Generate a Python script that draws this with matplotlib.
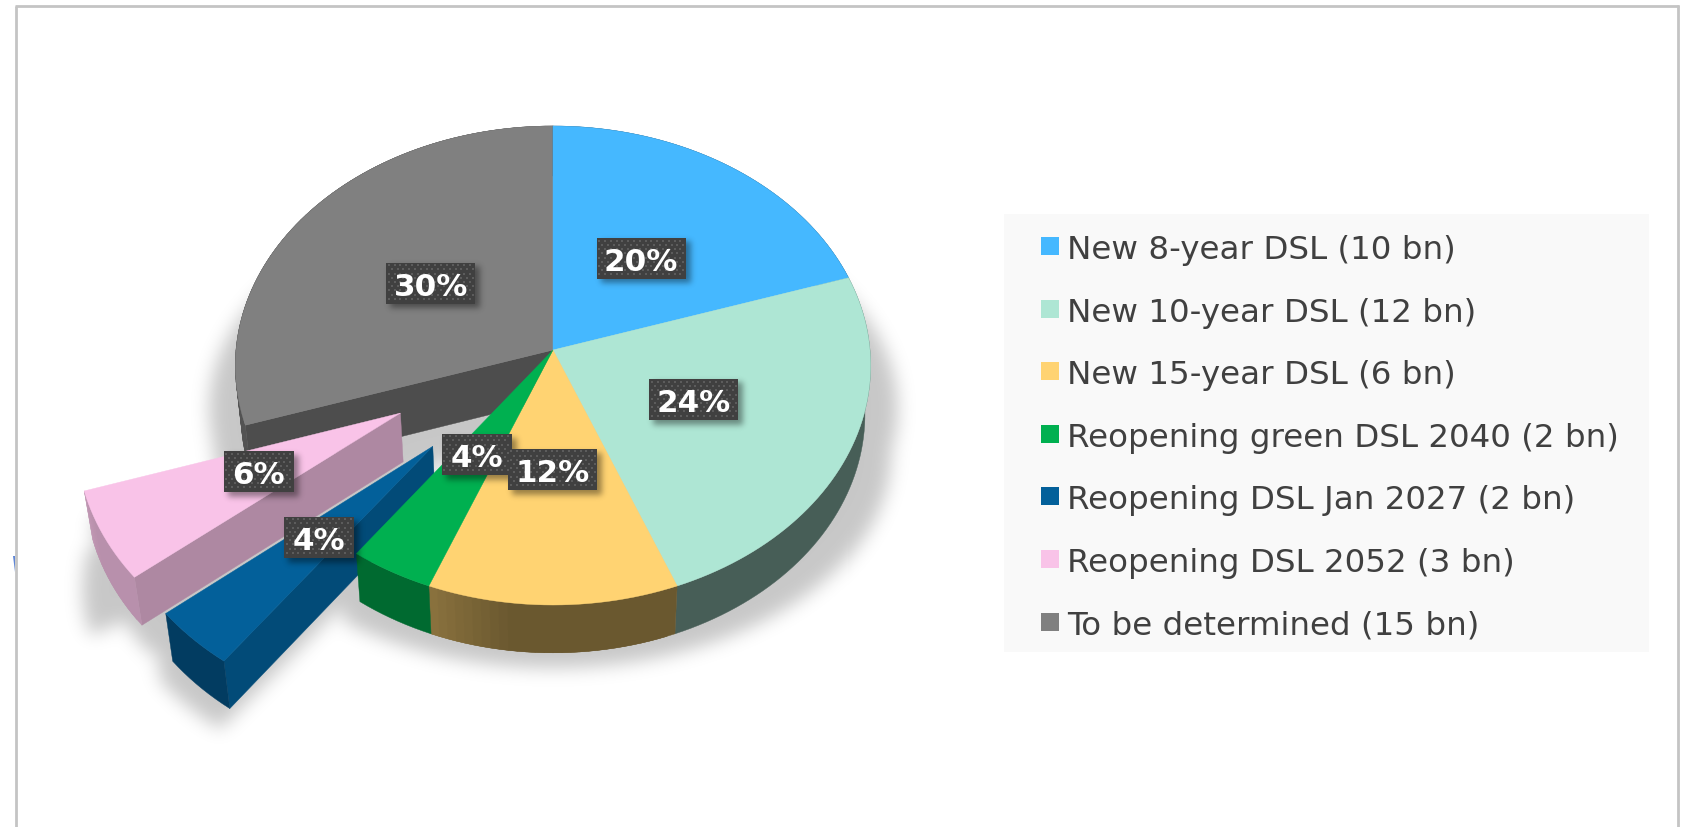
import numpy as np
import matplotlib
matplotlib.use("Agg")
import matplotlib.pyplot as plt
from matplotlib.backends.backend_agg import FigureCanvasAgg
from matplotlib.figure import Figure
from matplotlib.patches import Polygon, Rectangle

# data
names = ["New 8-year DSL (10 bn)", "New 10-year DSL (12 bn)", "New 15-year DSL (6 bn)",
         "Reopening green DSL 2040 (2 bn)", "Reopening DSL Jan 2027 (2 bn)",
         "Reopening DSL 2052 (3 bn)", "To be determined (15 bn)"]
shares = [20, 24, 12, 4, 4, 6, 30]
explode = [0, 0, 0, 0, 0.54, 0.54, 0]
colors = ["#45B8FF", "#AEE6D4", "#FFD372", "#00B050", "#03609A", "#F9C3E8", "#808080"]

# brightness of the sides: arc start, arc end, cut edge
arc_shade = [(0.4, 0.4), (0.41, 0.41), (0.415, 0.55), (0.6, 0.6), (0.63, 0.63), (0.74, 0.78), (0.65, 0.8)]
cut_shade = [0.6, 0.6, 0.6, 0.6, 0.78, 0.7, 0.6]

W, H = 1683, 828
CX, CY, RX, RY = 553, 351, 317, 238.5
P = 0.0647       # perspective
B, D = 0.982, 49  # bottom face scale and thickness
LABEL_R = 0.485


def project(x, y, bottom=False):
    x, y = np.asarray(x, float), np.asarray(y, float)
    w = 1 + P * y
    sx = CX + RX * x / w
    sy = CY - RY * y / w
    if bottom:
        sx = CX + (sx - CX) * B
        sy = CY + (sy - CY) * B + D / w
    return np.column_stack([sx, sy])


def shade(col, f):
    return tuple(c * f for c in matplotlib.colors.to_rgb(col))


edges = np.radians(np.cumsum([0] + shares) * 3.6)
faces = {}     # slice index -> list of (points, colour)
for i in range(len(shares)):
    a0, a1 = edges[i], edges[i + 1]
    mid = (a0 + a1) / 2
    ox, oy = explode[i] * np.sin(mid), explode[i] * np.cos(mid)
    col = colors[i]
    aa = np.linspace(a0, a1, max(int(np.degrees(a1 - a0) / 1.5), 2) + 1)
    ax_, ay_ = ox + np.sin(aa), oy + np.cos(aa)
    top_arc = project(ax_, ay_)
    bot_arc = project(ax_, ay_, True)
    lst = []
    # cut edge at the start angle of the slice
    if i in (4, 5, 6):
        pts = np.vstack([project([ox, ax_[0]], [oy, ay_[0]]), project([ax_[0], ox], [ay_[0], oy], True)])
        lst.append((pts, shade(col, cut_shade[i])))
    # outer side, overlapping strips where there is a gradient
    s0, s1 = arc_shade[i]
    if s0 == s1:
        lst.append((np.vstack([top_arc, bot_arc[::-1]]), shade(col, s0)))
    else:
        n = len(aa) - 1
        for k in range(n):
            t = k / n
            f = s0 + (s1 - s0) * max(0, (t - 0.65) / 0.35)
            pts = np.vstack([top_arc[k:k + 3], bot_arc[k:k + 3][::-1]])
            lst.append((pts, shade(col, f)))
    # top face
    lst.append((np.vstack([project([ox], [oy]), top_arc]), col))
    faces[i] = lst

draw_order = [6, 5, 4, 0, 1, 2, 3]


def blur(img, sigma):
    fy = np.fft.fftfreq(img.shape[0])[:, None]
    fx = np.fft.rfftfreq(img.shape[1])[None, :]
    g = np.exp(-2 * (np.pi * sigma) ** 2 * (fx ** 2 + fy ** 2))
    return np.fft.irfft2(np.fft.rfft2(img) * g, s=img.shape)


def raster(polys):
    f = Figure(figsize=(W / 100, H / 100), dpi=100)
    cv = FigureCanvasAgg(f)
    a = f.add_axes([0, 0, 1, 1])
    a.set_xlim(0, W)
    a.set_ylim(H, 0)
    a.axis("off")
    for p in polys:
        a.add_patch(Polygon(p, closed=True, fc="k", ec="k", lw=0.5))
    cv.draw()
    return 1 - np.asarray(cv.buffer_rgba())[:, :, 0] / 255.0


def black_layer(mask, alpha):
    rgba = np.zeros(mask.shape + (4,))
    rgba[:, :, 3] = np.clip(mask, 0, 1) * alpha
    return rgba


# pie shadow: every group has its own scale and shift
shadow_polys = []
for i in range(len(shares)):
    if i == 5:
        sc, sy_, dx, dy = 1.0, 1.0, 8, 28
    elif i == 4:
        sc, sy_, dx, dy = 1.03, 1.0, 0, 20
    else:
        sc, sy_, dx, dy = 1.08, 0.9, 0, 45
    for pts, _ in faces[i]:
        q = pts.copy()
        q[:, 0] = CX + (q[:, 0] - CX) * sc + dx
        q[:, 1] = CY + (q[:, 1] - CY) * sy_ + dy
        shadow_polys.append(q)
# the pink slice casts a longer sheared shadow towards the lower left
q = faces[5][-1][0].copy()
q[:, 0] = q[:, 0] - 0.55 * (q[:, 1] - 492) + 4
q[:, 1] = q[:, 1] + 58
shadow_polys.append(q)
pie_shadow = blur(raster(shadow_polys), 9)

plt.rcParams["font.family"] = "DejaVu Sans"
fig = plt.figure(figsize=(W / 100, H / 100), dpi=100, facecolor="white")
ax = fig.add_axes([0, 0, 1, 1])
ax.imshow(black_layer(pie_shadow, 0.22), extent=(0, W, H, 0), aspect="auto", zorder=1, interpolation="nearest")

z = 2
for i in draw_order:
    for pts, c in faces[i]:
        ax.add_patch(Polygon(pts, closed=True, fc=c, ec=c, lw=0.3, zorder=z))
        z += 0.001

# percent labels sit on the slices, in boxes with a dotted fill
label_xy = []
box_polys = []
for i, v in enumerate(shares):
    mid = (edges[i] + edges[i + 1]) / 2
    r = LABEL_R + explode[i]
    p = project(r * np.sin(mid), r * np.cos(mid))[0]
    bw = 70 if v < 10 else 89
    label_xy.append((p[0], p[1], bw, 41))
    x0, y0 = p[0] - bw / 2, p[1] - 20.5
    box_polys.append(np.array([[x0, y0], [x0 + bw, y0], [x0 + bw, y0 + 41], [x0, y0 + 41]]) + [4, 4])

ax.imshow(black_layer(blur(raster(box_polys), 3), 0.4), extent=(0, W, H, 0), aspect="auto", zorder=5,
          interpolation="nearest")

for i, v in enumerate(shares):
    x, y, bw, bh = label_xy[i]
    ax.add_patch(Rectangle((x - bw / 2, y - bh / 2), bw, bh, fc="#404040", ec="none", zorder=6))
    xs, ys = [], []
    for r, yy in enumerate(np.arange(y - bh / 2 + 2.5, y + bh / 2 - 1, 4.2)):
        for xx in np.arange(x - bw / 2 + 2.5 + (r % 2) * 2.9, x + bw / 2 - 1, 5.8):
            xs.append(xx)
            ys.append(yy)
    ax.scatter(xs, ys, s=1.6, marker="s", c="#5C5C5C", linewidths=0, zorder=6.1)
    ax.text(x, y, f"{v}%", color="white", fontsize=22.3, fontweight="bold", ha="center", va="center_baseline",
            zorder=7)

# legend
ax.add_patch(Rectangle((1004, 215), 645, 438, fc="#F9F9F9", ec="none", zorder=2))
for i, name in enumerate(names):
    y = 247 + i * 62.6
    ax.add_patch(Rectangle((1041, y - 9), 18, 18, fc=colors[i], ec="none", zorder=3))
    ax.text(1067, y, name, color="#404040", fontsize=23.4, ha="left", va="center_baseline", zorder=3)

# outer frame and the small mark on it
ax.plot([16, 16], [828, 7], color="#C4C4C4", lw=2, zorder=3, solid_capstyle="butt")
ax.plot([15, 1679], [7, 7], color="#C4C4C4", lw=2, zorder=3, solid_capstyle="butt")
ax.plot([1678.5, 1678.5], [6, 828], color="#C4C4C4", lw=2, zorder=3, solid_capstyle="butt")
ax.add_patch(Polygon([[13, 557], [15, 557], [15, 573]], closed=True, fc="#5F86D6", ec="none", zorder=2))

ax.set_xlim(0, W)
ax.set_ylim(H, 0)
ax.axis("off")
fig.savefig("out.png", dpi=100)
